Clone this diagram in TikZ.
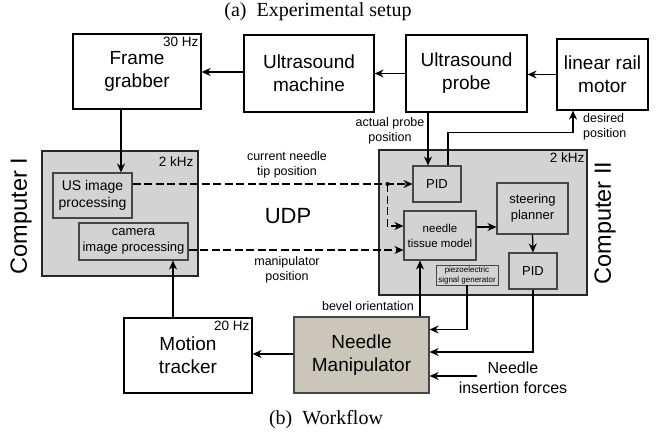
\documentclass[tikz,border=0pt]{standalone}
\usepackage{fontspec}
\setmainfont{Liberation Serif}
\setsansfont{Liberation Sans}
\usepackage{tikz}
\usetikzlibrary{arrows.meta,positioning}

\definecolor{pcgray}{RGB}{211,211,211}
\definecolor{edgegray}{RGB}{70,70,70}
\definecolor{manip}{RGB}{202,198,186}

\newcommand{\fsz}[2]{\fontsize{#1}{#2}\selectfont}

\begin{document}
\begin{tikzpicture}[x=1pt,y=-1pt,
	blk/.style={draw=black, line width=1.2pt, fill=white, align=center, inner sep=0pt, font=\sffamily\fsz{19}{23}},
	pc/.style={draw=black!85, line width=1.3pt, fill=pcgray, inner sep=0pt},
	sub/.style={draw=edgegray, line width=1.1pt, fill=pcgray, align=center, inner sep=0pt, font=\sffamily\fsz{13}{16}},
	lbl/.style={align=center, inner sep=0pt, font=\sffamily\fsz{12.5}{15.5}},
	hz/.style={inner sep=0pt, font=\sffamily\fsz{13.5}{15}},
	arr/.style={line width=1.3pt, -{Stealth[length=9pt,width=8pt]}},
	udp/.style={arr, dash pattern=on 8pt off 3.5pt},
	]
	\useasboundingbox (0,0) rectangle (667,434);

	% top row
	\node[blk, minimum width=128pt, minimum height=75pt] (grab) at (137,71.5) {Frame\\grabber};
	\node[blk, minimum width=130pt, minimum height=77pt] (usm) at (309,73.5) {Ultrasound\\machine};
	\node[blk, minimum width=121pt, minimum height=77pt] (probe) at (466.5,73.5) {Ultrasound\\probe};
	\node[blk, minimum width=91pt, minimum height=71pt] (rail) at (602.5,74.5) {linear rail\\motor};
	\node[hz, anchor=north east] (grabhz) at ([xshift=-3pt,yshift=-3pt]grab.north east) {30 Hz};

	% computer I
	\node[pc, minimum width=156pt, minimum height=125pt] (pc1) at (120,213.5) {};
	\node[sub, font=\sffamily\fsz{14}{17.5}, minimum width=79pt, minimum height=45pt] (usip) at (92.5,195.5) {US image\\processing};
	\node[sub, minimum width=109pt, minimum height=37pt] (camip) at (133.5,241.5) {camera\\image processing};
	\node[hz, anchor=north east] (pc1hz) at ([xshift=-5pt,yshift=-6pt]pc1.north east) {2 kHz};
	\node[rotate=90, font=\sffamily\fsz{23.5}{26}] (pc1name) at (21,216) {Computer I};

	% computer II
	\node[pc, minimum width=208pt, minimum height=145pt] (pc2) at (483,222.5) {};
	\node[sub, minimum width=48pt, minimum height=36pt] (pid1) at (437,184) {PID};
	\node[sub, font=\sffamily\fsz{11.5}{15}, minimum width=72pt, minimum height=49pt] (ntm) at (440,235.5) {needle\\tissue model};
	\node[sub, minimum width=71pt, minimum height=51pt] (steer) at (532.5,208.5) {steering\\planner};
	\node[sub, minimum width=48pt, minimum height=36pt] (pid2) at (533,271) {PID};
	\node[sub, line width=0.9pt, font=\sffamily\fsz{8}{10}, minimum width=62pt, minimum height=20pt] (piezo) at (467,275) {piezoelectric\\signal generator};
	\node[hz, anchor=north east] (pc2hz) at ([xshift=-3pt,yshift=-3pt]pc2.north east) {2 kHz};
	\node[rotate=90, font=\sffamily\fsz{23.5}{26}] (pc2name) at (605,223) {Computer II};

	\node[font=\sffamily\fsz{22}{26}] (udp) at (288,216) {UDP};

	% bottom row
	\node[blk, minimum width=128pt, minimum height=75pt] (mt) at (188,355.5) {Motion\\tracker};
	\node[blk, draw=edgegray, fill=manip, minimum width=135pt, minimum height=76pt] (nm) at (361.5,355) {Needle\\Manipulator};
	\node[hz, anchor=north east] (mthz) at ([xshift=-3pt,yshift=-3pt]mt.north east) {20 Hz};

	% labels
	\node[lbl] (tiplbl) at (287,165) {current needle\\tip position};
	\node[lbl] (manlbl) at (287,270) {manipulator\\position};
	\node[lbl] (actlbl) at (390,131) {actual probe\\position};
	\node[lbl, align=left, anchor=west] (deslbl) at (583,127) {desired\\position};
	\node[lbl, anchor=east] (bevlbl) at (414,306) {bevel orientation};
	\node[font=\sffamily\fsz{16}{20}, align=center] (frclbl) at (513,378) {Needle\\insertion forces};

	% captions
	\node[font=\rmfamily\fsz{20}{24}] (capa) at (318,12) {(a)\enspace Experimental setup};
	\node[font=\rmfamily\fsz{20}{24}] (capb) at (326,420) {(b)\enspace Workflow};

	% image chain
	\draw[arr] (rail.west) -- (rail.west -| probe.east);
	\draw[arr] (probe.west) -- (probe.west -| usm.east);
	\draw[arr] ([yshift=1.5pt]usm.west) -- ([yshift=1.5pt]usm.west -| grab.east);
	\draw[arr] ([xshift=-16pt]grab.south) -- ([xshift=-16pt]grab.south |- usip.north);
	\draw[arr] ([xshift=-15pt]mt.north) -- ([xshift=-15pt]mt.north |- camip.south);
	\draw[arr] ([yshift=1pt]nm.west) -- ([yshift=1pt]nm.west -| mt.east);

	% network links
	\path (pid1.west) ++(-25,0) coordinate (tap);
	\draw[udp] (usip.east |- pid1.west) -- (pid1.west);
	\draw[udp] (tap) |- ([yshift=9.5pt]ntm.west);
	\fill (tap) circle (2pt);
	\draw[udp] ([yshift=-8.5pt]camip.east) -- ([yshift=-8.5pt]camip.east -| ntm.west);

	% controller links
	\draw[arr] ([xshift=-9pt]pid1.north |- probe.south) -- ([xshift=-9pt]pid1.north);
	\draw[arr] ([xshift=11pt]pid1.north) -- ++(0,-33) -| ([xshift=-29.5pt]rail.south);
	\draw[arr] ([yshift=8.5pt]ntm.east) -- ([yshift=8.5pt]ntm.east -| steer.west);
	\draw[arr] (steer.south) -- (pid2.north);
	\draw[arr] ([xshift=58.5pt]nm.north) -- ([xshift=58.5pt]nm.north |- ntm.south);
	\draw[arr] (piezo.south) |- ([yshift=25.5pt]nm.east);
	\draw[arr] (pid2.south) |- ([yshift=3pt]nm.east);
	\coordinate (frc) at (477,376);
	\draw[arr] (frc) -- (frc -| nm.east);
\end{tikzpicture}
\end{document}
